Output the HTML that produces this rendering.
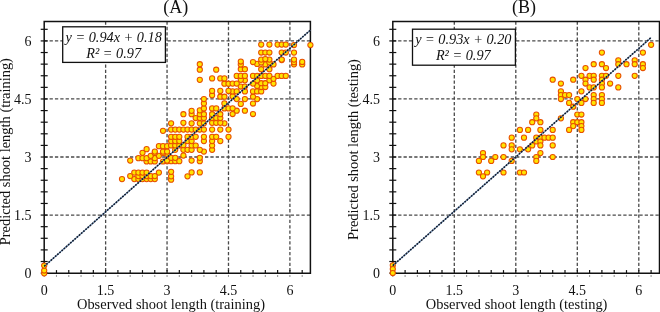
<!DOCTYPE html>
<html><head><meta charset="utf-8"><style>
html,body{margin:0;padding:0;background:#fff;width:660px;height:312px;overflow:hidden}
svg{display:block;will-change:transform}
.g{stroke:#4a4a4a;stroke-width:1.3;stroke-dasharray:3.3 2.06;fill:none}
.t{stroke:#111;stroke-width:1.2}
.tb{stroke:#999;stroke-width:1.1}
.f{stroke:#111;stroke-width:1.5;fill:none}
.p{fill:#ffe400;stroke:#e85000;stroke-width:1.05}
.r1{stroke:#6a8cb4;stroke-width:1.1}
.r2{stroke:#101a2c;stroke-width:1.6;stroke-dasharray:1.7 1.2}
text{font-family:'Liberation Serif',serif;fill:#111}
.tl{font-size:14px}
.al{font-size:14.45px}
.ti{font-size:18px}
.eq{font-size:14.3px;font-style:italic}
.bx{fill:#fff;stroke:#111;stroke-width:1.3}
</style></head><body>
<svg width="660" height="312" viewBox="0 0 660 312">
<line x1="105.62" y1="21.50" x2="105.62" y2="273.30" class="g"/>
<line x1="44.20" y1="215.07" x2="310.40" y2="215.07" class="g"/>
<line x1="167.05" y1="21.50" x2="167.05" y2="273.30" class="g"/>
<line x1="44.20" y1="157.02" x2="310.40" y2="157.02" class="g"/>
<line x1="228.48" y1="21.50" x2="228.48" y2="273.30" class="g"/>
<line x1="44.20" y1="98.97" x2="310.40" y2="98.97" class="g"/>
<line x1="289.90" y1="21.50" x2="289.90" y2="273.30" class="g"/>
<line x1="44.20" y1="40.92" x2="310.40" y2="40.92" class="g"/>
<line x1="44.20" y1="270.10" x2="44.20" y2="273.30" class="t"/>
<line x1="44.20" y1="274.90" x2="44.20" y2="276.90" class="tb"/>
<line x1="56.48" y1="270.10" x2="56.48" y2="273.30" class="t"/>
<line x1="56.48" y1="274.90" x2="56.48" y2="276.90" class="tb"/>
<line x1="68.77" y1="270.10" x2="68.77" y2="273.30" class="t"/>
<line x1="68.77" y1="274.90" x2="68.77" y2="276.90" class="tb"/>
<line x1="81.06" y1="270.10" x2="81.06" y2="273.30" class="t"/>
<line x1="81.06" y1="274.90" x2="81.06" y2="276.90" class="tb"/>
<line x1="93.34" y1="270.10" x2="93.34" y2="273.30" class="t"/>
<line x1="93.34" y1="274.90" x2="93.34" y2="276.90" class="tb"/>
<line x1="105.62" y1="270.10" x2="105.62" y2="273.30" class="t"/>
<line x1="105.62" y1="274.90" x2="105.62" y2="276.90" class="tb"/>
<line x1="117.91" y1="270.10" x2="117.91" y2="273.30" class="t"/>
<line x1="117.91" y1="274.90" x2="117.91" y2="276.90" class="tb"/>
<line x1="130.19" y1="270.10" x2="130.19" y2="273.30" class="t"/>
<line x1="130.19" y1="274.90" x2="130.19" y2="276.90" class="tb"/>
<line x1="142.48" y1="270.10" x2="142.48" y2="273.30" class="t"/>
<line x1="142.48" y1="274.90" x2="142.48" y2="276.90" class="tb"/>
<line x1="154.76" y1="270.10" x2="154.76" y2="273.30" class="t"/>
<line x1="154.76" y1="274.90" x2="154.76" y2="276.90" class="tb"/>
<line x1="167.05" y1="270.10" x2="167.05" y2="273.30" class="t"/>
<line x1="167.05" y1="274.90" x2="167.05" y2="276.90" class="tb"/>
<line x1="179.33" y1="270.10" x2="179.33" y2="273.30" class="t"/>
<line x1="179.33" y1="274.90" x2="179.33" y2="276.90" class="tb"/>
<line x1="191.62" y1="270.10" x2="191.62" y2="273.30" class="t"/>
<line x1="191.62" y1="274.90" x2="191.62" y2="276.90" class="tb"/>
<line x1="203.91" y1="270.10" x2="203.91" y2="273.30" class="t"/>
<line x1="203.91" y1="274.90" x2="203.91" y2="276.90" class="tb"/>
<line x1="216.19" y1="270.10" x2="216.19" y2="273.30" class="t"/>
<line x1="216.19" y1="274.90" x2="216.19" y2="276.90" class="tb"/>
<line x1="228.48" y1="270.10" x2="228.48" y2="273.30" class="t"/>
<line x1="228.48" y1="274.90" x2="228.48" y2="276.90" class="tb"/>
<line x1="240.76" y1="270.10" x2="240.76" y2="273.30" class="t"/>
<line x1="240.76" y1="274.90" x2="240.76" y2="276.90" class="tb"/>
<line x1="253.05" y1="270.10" x2="253.05" y2="273.30" class="t"/>
<line x1="253.05" y1="274.90" x2="253.05" y2="276.90" class="tb"/>
<line x1="265.33" y1="270.10" x2="265.33" y2="273.30" class="t"/>
<line x1="265.33" y1="274.90" x2="265.33" y2="276.90" class="tb"/>
<line x1="277.62" y1="270.10" x2="277.62" y2="273.30" class="t"/>
<line x1="277.62" y1="274.90" x2="277.62" y2="276.90" class="tb"/>
<line x1="289.90" y1="270.10" x2="289.90" y2="273.30" class="t"/>
<line x1="289.90" y1="274.90" x2="289.90" y2="276.90" class="tb"/>
<line x1="302.19" y1="270.10" x2="302.19" y2="273.30" class="t"/>
<line x1="302.19" y1="274.90" x2="302.19" y2="276.90" class="tb"/>
<line x1="40.70" y1="273.12" x2="47.70" y2="273.12" class="t"/>
<line x1="40.70" y1="261.51" x2="47.70" y2="261.51" class="t"/>
<line x1="40.70" y1="249.90" x2="47.70" y2="249.90" class="t"/>
<line x1="40.70" y1="238.29" x2="47.70" y2="238.29" class="t"/>
<line x1="40.70" y1="226.68" x2="47.70" y2="226.68" class="t"/>
<line x1="40.70" y1="215.07" x2="47.70" y2="215.07" class="t"/>
<line x1="40.70" y1="203.46" x2="47.70" y2="203.46" class="t"/>
<line x1="40.70" y1="191.85" x2="47.70" y2="191.85" class="t"/>
<line x1="40.70" y1="180.24" x2="47.70" y2="180.24" class="t"/>
<line x1="40.70" y1="168.63" x2="47.70" y2="168.63" class="t"/>
<line x1="40.70" y1="157.02" x2="47.70" y2="157.02" class="t"/>
<line x1="40.70" y1="145.41" x2="47.70" y2="145.41" class="t"/>
<line x1="40.70" y1="133.80" x2="47.70" y2="133.80" class="t"/>
<line x1="40.70" y1="122.19" x2="47.70" y2="122.19" class="t"/>
<line x1="40.70" y1="110.58" x2="47.70" y2="110.58" class="t"/>
<line x1="40.70" y1="98.97" x2="47.70" y2="98.97" class="t"/>
<line x1="40.70" y1="87.36" x2="47.70" y2="87.36" class="t"/>
<line x1="40.70" y1="75.75" x2="47.70" y2="75.75" class="t"/>
<line x1="40.70" y1="64.14" x2="47.70" y2="64.14" class="t"/>
<line x1="40.70" y1="52.53" x2="47.70" y2="52.53" class="t"/>
<line x1="40.70" y1="40.92" x2="47.70" y2="40.92" class="t"/>
<line x1="40.70" y1="29.31" x2="47.70" y2="29.31" class="t"/>
<path d="M44.20 21.50 H310.40 V273.30 H44.20 Z" class="f"/>
<circle cx="171.1" cy="179.7" r="2.6" class="p"/>
<circle cx="122.0" cy="179.1" r="2.6" class="p"/>
<circle cx="134.3" cy="179.1" r="2.6" class="p"/>
<circle cx="138.4" cy="179.1" r="2.6" class="p"/>
<circle cx="142.5" cy="179.1" r="2.6" class="p"/>
<circle cx="146.6" cy="179.1" r="2.6" class="p"/>
<circle cx="150.7" cy="179.1" r="2.6" class="p"/>
<circle cx="154.8" cy="179.1" r="2.6" class="p"/>
<circle cx="171.1" cy="176.3" r="2.6" class="p"/>
<circle cx="187.5" cy="176.3" r="2.6" class="p"/>
<circle cx="130.2" cy="176.1" r="2.6" class="p"/>
<circle cx="138.4" cy="176.1" r="2.6" class="p"/>
<circle cx="142.5" cy="176.1" r="2.6" class="p"/>
<circle cx="146.6" cy="176.1" r="2.6" class="p"/>
<circle cx="150.7" cy="176.1" r="2.6" class="p"/>
<circle cx="154.8" cy="176.1" r="2.6" class="p"/>
<circle cx="134.3" cy="172.6" r="2.6" class="p"/>
<circle cx="138.4" cy="172.6" r="2.6" class="p"/>
<circle cx="142.5" cy="172.6" r="2.6" class="p"/>
<circle cx="146.6" cy="172.6" r="2.6" class="p"/>
<circle cx="158.9" cy="172.6" r="2.6" class="p"/>
<circle cx="191.6" cy="172.4" r="2.6" class="p"/>
<circle cx="199.8" cy="172.4" r="2.6" class="p"/>
<circle cx="171.1" cy="171.8" r="2.6" class="p"/>
<circle cx="146.6" cy="161.5" r="2.6" class="p"/>
<circle cx="150.7" cy="161.5" r="2.6" class="p"/>
<circle cx="154.8" cy="161.5" r="2.6" class="p"/>
<circle cx="163.0" cy="161.5" r="2.6" class="p"/>
<circle cx="167.1" cy="161.2" r="2.6" class="p"/>
<circle cx="171.1" cy="161.2" r="2.6" class="p"/>
<circle cx="175.2" cy="161.2" r="2.6" class="p"/>
<circle cx="179.3" cy="161.2" r="2.6" class="p"/>
<circle cx="199.8" cy="161.2" r="2.6" class="p"/>
<circle cx="130.2" cy="160.6" r="2.6" class="p"/>
<circle cx="167.1" cy="160.6" r="2.6" class="p"/>
<circle cx="191.6" cy="160.6" r="2.6" class="p"/>
<circle cx="138.4" cy="158.2" r="2.6" class="p"/>
<circle cx="142.5" cy="158.2" r="2.6" class="p"/>
<circle cx="146.6" cy="158.2" r="2.6" class="p"/>
<circle cx="154.8" cy="158.2" r="2.6" class="p"/>
<circle cx="171.1" cy="157.8" r="2.6" class="p"/>
<circle cx="175.2" cy="157.8" r="2.6" class="p"/>
<circle cx="199.8" cy="157.8" r="2.6" class="p"/>
<circle cx="150.7" cy="155.8" r="2.6" class="p"/>
<circle cx="158.9" cy="155.8" r="2.6" class="p"/>
<circle cx="183.4" cy="155.6" r="2.6" class="p"/>
<circle cx="167.1" cy="154.0" r="2.6" class="p"/>
<circle cx="154.8" cy="152.9" r="2.6" class="p"/>
<circle cx="163.0" cy="152.9" r="2.6" class="p"/>
<circle cx="142.5" cy="152.8" r="2.6" class="p"/>
<circle cx="154.8" cy="151.6" r="2.6" class="p"/>
<circle cx="163.0" cy="151.6" r="2.6" class="p"/>
<circle cx="167.1" cy="151.6" r="2.6" class="p"/>
<circle cx="203.9" cy="151.6" r="2.6" class="p"/>
<circle cx="175.2" cy="149.8" r="2.6" class="p"/>
<circle cx="183.4" cy="149.8" r="2.6" class="p"/>
<circle cx="187.5" cy="149.8" r="2.6" class="p"/>
<circle cx="191.6" cy="149.8" r="2.6" class="p"/>
<circle cx="199.8" cy="149.8" r="2.6" class="p"/>
<circle cx="212.1" cy="149.8" r="2.6" class="p"/>
<circle cx="146.6" cy="149.2" r="2.6" class="p"/>
<circle cx="158.9" cy="146.2" r="2.6" class="p"/>
<circle cx="163.0" cy="146.2" r="2.6" class="p"/>
<circle cx="167.1" cy="146.2" r="2.6" class="p"/>
<circle cx="171.1" cy="145.5" r="2.6" class="p"/>
<circle cx="175.2" cy="145.5" r="2.6" class="p"/>
<circle cx="179.3" cy="145.5" r="2.6" class="p"/>
<circle cx="191.6" cy="145.5" r="2.6" class="p"/>
<circle cx="195.7" cy="145.5" r="2.6" class="p"/>
<circle cx="212.1" cy="145.5" r="2.6" class="p"/>
<circle cx="183.4" cy="145.2" r="2.6" class="p"/>
<circle cx="171.1" cy="141.1" r="2.6" class="p"/>
<circle cx="175.2" cy="141.1" r="2.6" class="p"/>
<circle cx="179.3" cy="141.1" r="2.6" class="p"/>
<circle cx="187.5" cy="141.1" r="2.6" class="p"/>
<circle cx="191.6" cy="141.1" r="2.6" class="p"/>
<circle cx="203.9" cy="141.1" r="2.6" class="p"/>
<circle cx="212.1" cy="141.1" r="2.6" class="p"/>
<circle cx="220.3" cy="141.1" r="2.6" class="p"/>
<circle cx="171.1" cy="136.8" r="2.6" class="p"/>
<circle cx="175.2" cy="136.8" r="2.6" class="p"/>
<circle cx="179.3" cy="136.8" r="2.6" class="p"/>
<circle cx="187.5" cy="136.8" r="2.6" class="p"/>
<circle cx="191.6" cy="136.8" r="2.6" class="p"/>
<circle cx="195.7" cy="136.8" r="2.6" class="p"/>
<circle cx="203.9" cy="136.8" r="2.6" class="p"/>
<circle cx="212.1" cy="136.8" r="2.6" class="p"/>
<circle cx="216.2" cy="136.8" r="2.6" class="p"/>
<circle cx="228.5" cy="136.8" r="2.6" class="p"/>
<circle cx="163.0" cy="130.8" r="2.6" class="p"/>
<circle cx="171.1" cy="129.6" r="2.6" class="p"/>
<circle cx="175.2" cy="129.6" r="2.6" class="p"/>
<circle cx="179.3" cy="129.6" r="2.6" class="p"/>
<circle cx="183.4" cy="129.6" r="2.6" class="p"/>
<circle cx="187.5" cy="129.6" r="2.6" class="p"/>
<circle cx="191.6" cy="129.6" r="2.6" class="p"/>
<circle cx="195.7" cy="129.6" r="2.6" class="p"/>
<circle cx="199.8" cy="129.6" r="2.6" class="p"/>
<circle cx="203.9" cy="129.6" r="2.6" class="p"/>
<circle cx="212.1" cy="129.6" r="2.6" class="p"/>
<circle cx="220.3" cy="129.6" r="2.6" class="p"/>
<circle cx="228.5" cy="129.6" r="2.6" class="p"/>
<circle cx="171.1" cy="123.3" r="2.6" class="p"/>
<circle cx="191.6" cy="123.3" r="2.6" class="p"/>
<circle cx="199.8" cy="123.3" r="2.6" class="p"/>
<circle cx="203.9" cy="123.3" r="2.6" class="p"/>
<circle cx="224.4" cy="123.3" r="2.6" class="p"/>
<circle cx="183.4" cy="122.8" r="2.6" class="p"/>
<circle cx="212.1" cy="122.8" r="2.6" class="p"/>
<circle cx="216.2" cy="122.8" r="2.6" class="p"/>
<circle cx="220.3" cy="122.8" r="2.6" class="p"/>
<circle cx="195.7" cy="118.0" r="2.6" class="p"/>
<circle cx="199.8" cy="118.0" r="2.6" class="p"/>
<circle cx="203.9" cy="118.0" r="2.6" class="p"/>
<circle cx="212.1" cy="118.0" r="2.6" class="p"/>
<circle cx="216.2" cy="118.0" r="2.6" class="p"/>
<circle cx="220.3" cy="118.0" r="2.6" class="p"/>
<circle cx="183.4" cy="114.2" r="2.6" class="p"/>
<circle cx="191.6" cy="114.2" r="2.6" class="p"/>
<circle cx="199.8" cy="114.2" r="2.6" class="p"/>
<circle cx="203.9" cy="114.2" r="2.6" class="p"/>
<circle cx="212.1" cy="114.2" r="2.6" class="p"/>
<circle cx="220.3" cy="114.2" r="2.6" class="p"/>
<circle cx="232.6" cy="114.0" r="2.6" class="p"/>
<circle cx="253.0" cy="114.0" r="2.6" class="p"/>
<circle cx="191.6" cy="110.8" r="2.6" class="p"/>
<circle cx="236.7" cy="110.7" r="2.6" class="p"/>
<circle cx="244.9" cy="110.7" r="2.6" class="p"/>
<circle cx="199.8" cy="110.3" r="2.6" class="p"/>
<circle cx="203.9" cy="108.4" r="2.6" class="p"/>
<circle cx="212.1" cy="108.4" r="2.6" class="p"/>
<circle cx="216.2" cy="108.4" r="2.6" class="p"/>
<circle cx="224.4" cy="108.4" r="2.6" class="p"/>
<circle cx="228.5" cy="108.4" r="2.6" class="p"/>
<circle cx="232.6" cy="108.3" r="2.6" class="p"/>
<circle cx="240.8" cy="103.9" r="2.6" class="p"/>
<circle cx="253.0" cy="103.5" r="2.6" class="p"/>
<circle cx="203.9" cy="103.4" r="2.6" class="p"/>
<circle cx="224.4" cy="103.4" r="2.6" class="p"/>
<circle cx="236.7" cy="99.1" r="2.6" class="p"/>
<circle cx="244.9" cy="99.1" r="2.6" class="p"/>
<circle cx="257.1" cy="99.1" r="2.6" class="p"/>
<circle cx="203.9" cy="99.1" r="2.6" class="p"/>
<circle cx="253.0" cy="96.7" r="2.6" class="p"/>
<circle cx="220.3" cy="96.7" r="2.6" class="p"/>
<circle cx="224.4" cy="96.7" r="2.6" class="p"/>
<circle cx="232.6" cy="96.2" r="2.6" class="p"/>
<circle cx="212.1" cy="95.2" r="2.6" class="p"/>
<circle cx="232.6" cy="91.4" r="2.6" class="p"/>
<circle cx="236.7" cy="91.4" r="2.6" class="p"/>
<circle cx="244.9" cy="91.4" r="2.6" class="p"/>
<circle cx="253.0" cy="91.4" r="2.6" class="p"/>
<circle cx="257.1" cy="91.4" r="2.6" class="p"/>
<circle cx="261.2" cy="91.4" r="2.6" class="p"/>
<circle cx="212.1" cy="90.9" r="2.6" class="p"/>
<circle cx="220.3" cy="90.9" r="2.6" class="p"/>
<circle cx="228.5" cy="90.9" r="2.6" class="p"/>
<circle cx="261.2" cy="87.0" r="2.6" class="p"/>
<circle cx="265.3" cy="87.0" r="2.6" class="p"/>
<circle cx="240.8" cy="86.5" r="2.6" class="p"/>
<circle cx="244.9" cy="86.5" r="2.6" class="p"/>
<circle cx="257.1" cy="86.0" r="2.6" class="p"/>
<circle cx="224.4" cy="83.7" r="2.6" class="p"/>
<circle cx="228.5" cy="83.7" r="2.6" class="p"/>
<circle cx="232.6" cy="83.6" r="2.6" class="p"/>
<circle cx="236.7" cy="83.6" r="2.6" class="p"/>
<circle cx="253.0" cy="83.6" r="2.6" class="p"/>
<circle cx="273.5" cy="83.6" r="2.6" class="p"/>
<circle cx="261.2" cy="83.2" r="2.6" class="p"/>
<circle cx="265.3" cy="83.2" r="2.6" class="p"/>
<circle cx="244.9" cy="80.3" r="2.6" class="p"/>
<circle cx="257.1" cy="80.3" r="2.6" class="p"/>
<circle cx="269.4" cy="80.3" r="2.6" class="p"/>
<circle cx="199.8" cy="79.8" r="2.6" class="p"/>
<circle cx="240.8" cy="79.8" r="2.6" class="p"/>
<circle cx="273.5" cy="78.8" r="2.6" class="p"/>
<circle cx="212.1" cy="78.4" r="2.6" class="p"/>
<circle cx="220.3" cy="78.4" r="2.6" class="p"/>
<circle cx="224.4" cy="78.4" r="2.6" class="p"/>
<circle cx="236.7" cy="75.9" r="2.6" class="p"/>
<circle cx="240.8" cy="75.9" r="2.6" class="p"/>
<circle cx="244.9" cy="75.9" r="2.6" class="p"/>
<circle cx="253.0" cy="75.9" r="2.6" class="p"/>
<circle cx="257.1" cy="75.9" r="2.6" class="p"/>
<circle cx="261.2" cy="75.9" r="2.6" class="p"/>
<circle cx="265.3" cy="75.9" r="2.6" class="p"/>
<circle cx="269.4" cy="75.9" r="2.6" class="p"/>
<circle cx="277.6" cy="75.9" r="2.6" class="p"/>
<circle cx="281.7" cy="75.9" r="2.6" class="p"/>
<circle cx="285.8" cy="75.9" r="2.6" class="p"/>
<circle cx="199.8" cy="69.7" r="2.6" class="p"/>
<circle cx="216.2" cy="69.7" r="2.6" class="p"/>
<circle cx="240.8" cy="69.2" r="2.6" class="p"/>
<circle cx="244.9" cy="69.2" r="2.6" class="p"/>
<circle cx="261.2" cy="69.2" r="2.6" class="p"/>
<circle cx="269.4" cy="69.2" r="2.6" class="p"/>
<circle cx="240.8" cy="64.4" r="2.6" class="p"/>
<circle cx="265.3" cy="64.4" r="2.6" class="p"/>
<circle cx="273.5" cy="64.4" r="2.6" class="p"/>
<circle cx="302.2" cy="64.4" r="2.6" class="p"/>
<circle cx="294.0" cy="64.3" r="2.6" class="p"/>
<circle cx="199.8" cy="64.2" r="2.6" class="p"/>
<circle cx="257.1" cy="63.9" r="2.6" class="p"/>
<circle cx="261.2" cy="62.5" r="2.6" class="p"/>
<circle cx="269.4" cy="62.5" r="2.6" class="p"/>
<circle cx="294.0" cy="62.2" r="2.6" class="p"/>
<circle cx="253.0" cy="62.0" r="2.6" class="p"/>
<circle cx="302.2" cy="61.9" r="2.6" class="p"/>
<circle cx="240.8" cy="61.5" r="2.6" class="p"/>
<circle cx="281.7" cy="60.0" r="2.6" class="p"/>
<circle cx="261.2" cy="59.6" r="2.6" class="p"/>
<circle cx="269.4" cy="59.6" r="2.6" class="p"/>
<circle cx="281.7" cy="59.6" r="2.6" class="p"/>
<circle cx="294.0" cy="59.6" r="2.6" class="p"/>
<circle cx="265.3" cy="59.1" r="2.6" class="p"/>
<circle cx="294.0" cy="52.6" r="2.6" class="p"/>
<circle cx="261.2" cy="52.5" r="2.6" class="p"/>
<circle cx="265.3" cy="52.5" r="2.6" class="p"/>
<circle cx="269.4" cy="52.5" r="2.6" class="p"/>
<circle cx="281.7" cy="52.5" r="2.6" class="p"/>
<circle cx="285.8" cy="52.5" r="2.6" class="p"/>
<circle cx="294.0" cy="45.0" r="2.6" class="p"/>
<circle cx="310.4" cy="45.0" r="2.6" class="p"/>
<circle cx="261.2" cy="44.6" r="2.6" class="p"/>
<circle cx="269.4" cy="44.6" r="2.6" class="p"/>
<circle cx="277.6" cy="44.6" r="2.6" class="p"/>
<circle cx="281.7" cy="44.6" r="2.6" class="p"/>
<circle cx="285.8" cy="44.6" r="2.6" class="p"/>
<circle cx="44.2" cy="273.3" r="2.6" class="p"/>
<circle cx="44.2" cy="270.5" r="2.6" class="p"/>
<circle cx="44.2" cy="265.6" r="2.6" class="p"/>
<line x1="44.20" y1="266.34" x2="310.38" y2="30.07" class="r1"/>
<line x1="44.20" y1="266.34" x2="310.38" y2="30.07" class="r2"/>
<text x="44.20" y="295.2" text-anchor="middle" class="tl">0</text>
<text x="31.50" y="278.10" text-anchor="end" class="tl">0</text>
<text x="105.62" y="295.2" text-anchor="middle" class="tl">1.5</text>
<text x="31.50" y="220.10" text-anchor="end" class="tl">1.5</text>
<text x="167.05" y="295.2" text-anchor="middle" class="tl">3</text>
<text x="31.50" y="162.09" text-anchor="end" class="tl">3</text>
<text x="228.48" y="295.2" text-anchor="middle" class="tl">4.5</text>
<text x="31.50" y="104.08" text-anchor="end" class="tl">4.5</text>
<text x="289.90" y="295.2" text-anchor="middle" class="tl">6</text>
<text x="31.50" y="46.08" text-anchor="end" class="tl">6</text>
<text x="171.00" y="308.5" text-anchor="middle" class="al">Observed shoot length (training)</text>
<text transform="translate(10.00,151.70) rotate(-90)" x="0" y="0" text-anchor="middle" class="al">Predicted shoot length (training)</text>
<text x="175.70" y="13.4" text-anchor="middle" class="ti">(A)</text>
<rect x="62.70" y="26.80" width="102.70" height="35.60" class="bx"/>
<text x="113.70" y="41.60" text-anchor="middle" class="eq">y = 0.94x + 0.18</text>
<text x="113.70" y="57.50" text-anchor="middle" class="eq">R² = 0.97</text>
<line x1="454.30" y1="21.50" x2="454.30" y2="273.30" class="g"/>
<line x1="392.80" y1="215.07" x2="659.50" y2="215.07" class="g"/>
<line x1="515.80" y1="21.50" x2="515.80" y2="273.30" class="g"/>
<line x1="392.80" y1="157.02" x2="659.50" y2="157.02" class="g"/>
<line x1="577.30" y1="21.50" x2="577.30" y2="273.30" class="g"/>
<line x1="392.80" y1="98.97" x2="659.50" y2="98.97" class="g"/>
<line x1="638.80" y1="21.50" x2="638.80" y2="273.30" class="g"/>
<line x1="392.80" y1="40.92" x2="659.50" y2="40.92" class="g"/>
<line x1="392.80" y1="270.10" x2="392.80" y2="273.30" class="t"/>
<line x1="392.80" y1="274.90" x2="392.80" y2="276.90" class="tb"/>
<line x1="405.10" y1="270.10" x2="405.10" y2="273.30" class="t"/>
<line x1="405.10" y1="274.90" x2="405.10" y2="276.90" class="tb"/>
<line x1="417.40" y1="270.10" x2="417.40" y2="273.30" class="t"/>
<line x1="417.40" y1="274.90" x2="417.40" y2="276.90" class="tb"/>
<line x1="429.70" y1="270.10" x2="429.70" y2="273.30" class="t"/>
<line x1="429.70" y1="274.90" x2="429.70" y2="276.90" class="tb"/>
<line x1="442.00" y1="270.10" x2="442.00" y2="273.30" class="t"/>
<line x1="442.00" y1="274.90" x2="442.00" y2="276.90" class="tb"/>
<line x1="454.30" y1="270.10" x2="454.30" y2="273.30" class="t"/>
<line x1="454.30" y1="274.90" x2="454.30" y2="276.90" class="tb"/>
<line x1="466.60" y1="270.10" x2="466.60" y2="273.30" class="t"/>
<line x1="466.60" y1="274.90" x2="466.60" y2="276.90" class="tb"/>
<line x1="478.90" y1="270.10" x2="478.90" y2="273.30" class="t"/>
<line x1="478.90" y1="274.90" x2="478.90" y2="276.90" class="tb"/>
<line x1="491.20" y1="270.10" x2="491.20" y2="273.30" class="t"/>
<line x1="491.20" y1="274.90" x2="491.20" y2="276.90" class="tb"/>
<line x1="503.50" y1="270.10" x2="503.50" y2="273.30" class="t"/>
<line x1="503.50" y1="274.90" x2="503.50" y2="276.90" class="tb"/>
<line x1="515.80" y1="270.10" x2="515.80" y2="273.30" class="t"/>
<line x1="515.80" y1="274.90" x2="515.80" y2="276.90" class="tb"/>
<line x1="528.10" y1="270.10" x2="528.10" y2="273.30" class="t"/>
<line x1="528.10" y1="274.90" x2="528.10" y2="276.90" class="tb"/>
<line x1="540.40" y1="270.10" x2="540.40" y2="273.30" class="t"/>
<line x1="540.40" y1="274.90" x2="540.40" y2="276.90" class="tb"/>
<line x1="552.70" y1="270.10" x2="552.70" y2="273.30" class="t"/>
<line x1="552.70" y1="274.90" x2="552.70" y2="276.90" class="tb"/>
<line x1="565.00" y1="270.10" x2="565.00" y2="273.30" class="t"/>
<line x1="565.00" y1="274.90" x2="565.00" y2="276.90" class="tb"/>
<line x1="577.30" y1="270.10" x2="577.30" y2="273.30" class="t"/>
<line x1="577.30" y1="274.90" x2="577.30" y2="276.90" class="tb"/>
<line x1="589.60" y1="270.10" x2="589.60" y2="273.30" class="t"/>
<line x1="589.60" y1="274.90" x2="589.60" y2="276.90" class="tb"/>
<line x1="601.90" y1="270.10" x2="601.90" y2="273.30" class="t"/>
<line x1="601.90" y1="274.90" x2="601.90" y2="276.90" class="tb"/>
<line x1="614.20" y1="270.10" x2="614.20" y2="273.30" class="t"/>
<line x1="614.20" y1="274.90" x2="614.20" y2="276.90" class="tb"/>
<line x1="626.50" y1="270.10" x2="626.50" y2="273.30" class="t"/>
<line x1="626.50" y1="274.90" x2="626.50" y2="276.90" class="tb"/>
<line x1="638.80" y1="270.10" x2="638.80" y2="273.30" class="t"/>
<line x1="638.80" y1="274.90" x2="638.80" y2="276.90" class="tb"/>
<line x1="651.10" y1="270.10" x2="651.10" y2="273.30" class="t"/>
<line x1="651.10" y1="274.90" x2="651.10" y2="276.90" class="tb"/>
<line x1="389.30" y1="273.12" x2="396.30" y2="273.12" class="t"/>
<line x1="389.30" y1="261.51" x2="396.30" y2="261.51" class="t"/>
<line x1="389.30" y1="249.90" x2="396.30" y2="249.90" class="t"/>
<line x1="389.30" y1="238.29" x2="396.30" y2="238.29" class="t"/>
<line x1="389.30" y1="226.68" x2="396.30" y2="226.68" class="t"/>
<line x1="389.30" y1="215.07" x2="396.30" y2="215.07" class="t"/>
<line x1="389.30" y1="203.46" x2="396.30" y2="203.46" class="t"/>
<line x1="389.30" y1="191.85" x2="396.30" y2="191.85" class="t"/>
<line x1="389.30" y1="180.24" x2="396.30" y2="180.24" class="t"/>
<line x1="389.30" y1="168.63" x2="396.30" y2="168.63" class="t"/>
<line x1="389.30" y1="157.02" x2="396.30" y2="157.02" class="t"/>
<line x1="389.30" y1="145.41" x2="396.30" y2="145.41" class="t"/>
<line x1="389.30" y1="133.80" x2="396.30" y2="133.80" class="t"/>
<line x1="389.30" y1="122.19" x2="396.30" y2="122.19" class="t"/>
<line x1="389.30" y1="110.58" x2="396.30" y2="110.58" class="t"/>
<line x1="389.30" y1="98.97" x2="396.30" y2="98.97" class="t"/>
<line x1="389.30" y1="87.36" x2="396.30" y2="87.36" class="t"/>
<line x1="389.30" y1="75.75" x2="396.30" y2="75.75" class="t"/>
<line x1="389.30" y1="64.14" x2="396.30" y2="64.14" class="t"/>
<line x1="389.30" y1="52.53" x2="396.30" y2="52.53" class="t"/>
<line x1="389.30" y1="40.92" x2="396.30" y2="40.92" class="t"/>
<line x1="389.30" y1="29.31" x2="396.30" y2="29.31" class="t"/>
<path d="M392.80 21.50 H659.50 V273.30 H392.80 Z" class="f"/>
<circle cx="651.1" cy="44.8" r="2.6" class="p"/>
<circle cx="601.9" cy="52.6" r="2.6" class="p"/>
<circle cx="642.9" cy="52.6" r="2.6" class="p"/>
<circle cx="618.3" cy="60.3" r="2.6" class="p"/>
<circle cx="634.7" cy="60.3" r="2.6" class="p"/>
<circle cx="593.7" cy="64.2" r="2.6" class="p"/>
<circle cx="601.9" cy="64.2" r="2.6" class="p"/>
<circle cx="618.3" cy="64.2" r="2.6" class="p"/>
<circle cx="626.5" cy="64.2" r="2.6" class="p"/>
<circle cx="634.7" cy="64.2" r="2.6" class="p"/>
<circle cx="642.9" cy="64.2" r="2.6" class="p"/>
<circle cx="585.5" cy="68.0" r="2.6" class="p"/>
<circle cx="606.0" cy="68.0" r="2.6" class="p"/>
<circle cx="642.9" cy="68.0" r="2.6" class="p"/>
<circle cx="581.4" cy="75.8" r="2.6" class="p"/>
<circle cx="589.6" cy="75.8" r="2.6" class="p"/>
<circle cx="593.7" cy="75.8" r="2.6" class="p"/>
<circle cx="601.9" cy="75.8" r="2.6" class="p"/>
<circle cx="606.0" cy="75.8" r="2.6" class="p"/>
<circle cx="618.3" cy="75.8" r="2.6" class="p"/>
<circle cx="634.7" cy="75.8" r="2.6" class="p"/>
<circle cx="552.7" cy="79.7" r="2.6" class="p"/>
<circle cx="573.2" cy="79.7" r="2.6" class="p"/>
<circle cx="585.5" cy="79.7" r="2.6" class="p"/>
<circle cx="593.7" cy="79.7" r="2.6" class="p"/>
<circle cx="601.9" cy="79.7" r="2.6" class="p"/>
<circle cx="560.9" cy="83.5" r="2.6" class="p"/>
<circle cx="585.5" cy="83.5" r="2.6" class="p"/>
<circle cx="601.9" cy="83.5" r="2.6" class="p"/>
<circle cx="610.1" cy="83.5" r="2.6" class="p"/>
<circle cx="589.6" cy="87.4" r="2.6" class="p"/>
<circle cx="593.7" cy="87.4" r="2.6" class="p"/>
<circle cx="601.9" cy="87.4" r="2.6" class="p"/>
<circle cx="618.3" cy="87.4" r="2.6" class="p"/>
<circle cx="560.9" cy="91.3" r="2.6" class="p"/>
<circle cx="581.4" cy="91.3" r="2.6" class="p"/>
<circle cx="560.9" cy="95.1" r="2.6" class="p"/>
<circle cx="565.0" cy="95.1" r="2.6" class="p"/>
<circle cx="569.1" cy="95.1" r="2.6" class="p"/>
<circle cx="593.7" cy="95.1" r="2.6" class="p"/>
<circle cx="601.9" cy="95.1" r="2.6" class="p"/>
<circle cx="560.9" cy="99.0" r="2.6" class="p"/>
<circle cx="577.3" cy="99.0" r="2.6" class="p"/>
<circle cx="585.5" cy="99.0" r="2.6" class="p"/>
<circle cx="593.7" cy="99.0" r="2.6" class="p"/>
<circle cx="601.9" cy="99.0" r="2.6" class="p"/>
<circle cx="569.1" cy="102.9" r="2.6" class="p"/>
<circle cx="581.4" cy="102.9" r="2.6" class="p"/>
<circle cx="593.7" cy="102.9" r="2.6" class="p"/>
<circle cx="601.9" cy="102.9" r="2.6" class="p"/>
<circle cx="573.2" cy="106.7" r="2.6" class="p"/>
<circle cx="536.3" cy="114.5" r="2.6" class="p"/>
<circle cx="577.3" cy="114.5" r="2.6" class="p"/>
<circle cx="581.4" cy="114.5" r="2.6" class="p"/>
<circle cx="536.3" cy="118.3" r="2.6" class="p"/>
<circle cx="560.9" cy="118.3" r="2.6" class="p"/>
<circle cx="532.2" cy="122.2" r="2.6" class="p"/>
<circle cx="540.4" cy="122.2" r="2.6" class="p"/>
<circle cx="573.2" cy="122.2" r="2.6" class="p"/>
<circle cx="577.3" cy="122.2" r="2.6" class="p"/>
<circle cx="581.4" cy="122.2" r="2.6" class="p"/>
<circle cx="573.2" cy="126.1" r="2.6" class="p"/>
<circle cx="581.4" cy="126.1" r="2.6" class="p"/>
<circle cx="519.9" cy="129.9" r="2.6" class="p"/>
<circle cx="528.1" cy="129.9" r="2.6" class="p"/>
<circle cx="540.4" cy="129.9" r="2.6" class="p"/>
<circle cx="552.7" cy="129.9" r="2.6" class="p"/>
<circle cx="569.1" cy="129.9" r="2.6" class="p"/>
<circle cx="581.4" cy="129.9" r="2.6" class="p"/>
<circle cx="511.7" cy="137.7" r="2.6" class="p"/>
<circle cx="524.0" cy="137.7" r="2.6" class="p"/>
<circle cx="536.3" cy="137.7" r="2.6" class="p"/>
<circle cx="540.4" cy="137.7" r="2.6" class="p"/>
<circle cx="544.5" cy="137.7" r="2.6" class="p"/>
<circle cx="548.6" cy="137.7" r="2.6" class="p"/>
<circle cx="552.7" cy="137.7" r="2.6" class="p"/>
<circle cx="536.3" cy="141.5" r="2.6" class="p"/>
<circle cx="540.4" cy="141.5" r="2.6" class="p"/>
<circle cx="503.5" cy="145.4" r="2.6" class="p"/>
<circle cx="511.7" cy="145.4" r="2.6" class="p"/>
<circle cx="532.2" cy="145.4" r="2.6" class="p"/>
<circle cx="540.4" cy="145.4" r="2.6" class="p"/>
<circle cx="552.7" cy="145.4" r="2.6" class="p"/>
<circle cx="511.7" cy="149.3" r="2.6" class="p"/>
<circle cx="519.9" cy="149.3" r="2.6" class="p"/>
<circle cx="528.1" cy="149.3" r="2.6" class="p"/>
<circle cx="483.0" cy="153.1" r="2.6" class="p"/>
<circle cx="540.4" cy="153.1" r="2.6" class="p"/>
<circle cx="483.0" cy="157.0" r="2.6" class="p"/>
<circle cx="495.3" cy="157.0" r="2.6" class="p"/>
<circle cx="503.5" cy="157.0" r="2.6" class="p"/>
<circle cx="536.3" cy="157.0" r="2.6" class="p"/>
<circle cx="552.7" cy="157.0" r="2.6" class="p"/>
<circle cx="478.9" cy="160.9" r="2.6" class="p"/>
<circle cx="491.2" cy="160.9" r="2.6" class="p"/>
<circle cx="511.7" cy="160.9" r="2.6" class="p"/>
<circle cx="536.3" cy="160.9" r="2.6" class="p"/>
<circle cx="478.9" cy="172.5" r="2.6" class="p"/>
<circle cx="487.1" cy="172.5" r="2.6" class="p"/>
<circle cx="503.5" cy="172.5" r="2.6" class="p"/>
<circle cx="519.9" cy="172.5" r="2.6" class="p"/>
<circle cx="524.0" cy="172.5" r="2.6" class="p"/>
<circle cx="483.0" cy="176.3" r="2.6" class="p"/>
<circle cx="392.8" cy="265.3" r="2.6" class="p"/>
<circle cx="392.8" cy="269.1" r="2.6" class="p"/>
<circle cx="392.8" cy="273.0" r="2.6" class="p"/>
<line x1="392.80" y1="265.57" x2="651.10" y2="37.54" class="r1"/>
<line x1="392.80" y1="265.57" x2="651.10" y2="37.54" class="r2"/>
<text x="392.80" y="295.2" text-anchor="middle" class="tl">0</text>
<text x="380.10" y="278.10" text-anchor="end" class="tl">0</text>
<text x="454.30" y="295.2" text-anchor="middle" class="tl">1.5</text>
<text x="380.10" y="220.10" text-anchor="end" class="tl">1.5</text>
<text x="515.80" y="295.2" text-anchor="middle" class="tl">3</text>
<text x="380.10" y="162.09" text-anchor="end" class="tl">3</text>
<text x="577.30" y="295.2" text-anchor="middle" class="tl">4.5</text>
<text x="380.10" y="104.08" text-anchor="end" class="tl">4.5</text>
<text x="638.80" y="295.2" text-anchor="middle" class="tl">6</text>
<text x="380.10" y="46.08" text-anchor="end" class="tl">6</text>
<text x="516.60" y="308.5" text-anchor="middle" class="al">Observed shoot length (testing)</text>
<text transform="translate(358.10,149.50) rotate(-90)" x="0" y="0" text-anchor="middle" class="al">Predicted shoot length (testing)</text>
<text x="524.00" y="13.4" text-anchor="middle" class="ti">(B)</text>
<rect x="412.50" y="29.20" width="102.90" height="36.00" class="bx"/>
<text x="463.30" y="43.80" text-anchor="middle" class="eq">y = 0.93x + 0.20</text>
<text x="463.30" y="59.80" text-anchor="middle" class="eq">R² = 0.97</text>
</svg></body></html>
